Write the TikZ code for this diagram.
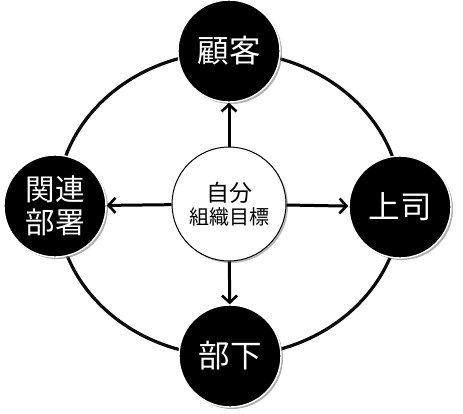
\documentclass[tikz,border=0pt]{standalone}
\usepackage{fontspec}
\newfontfamily\jpfont{Noto Sans CJK JP}
\usepackage{tikz}
\usetikzlibrary{arrows.meta,shadows}
\definecolor{RingBlack}{RGB}{10,10,10}
\definecolor{ShadowGray}{RGB}{120,120,120}
\tikzset{outer/.style={circle,fill=black,draw=white,line width=1.4pt,minimum size=102pt,inner sep=0pt,text=white,font=\jpfont\fontsize{31.5}{35}\selectfont,drop shadow={shadow xshift=2pt,shadow yshift=-2pt,fill=ShadowGray,opacity=.6}},
 centre/.style={circle,fill=white,draw=black,line width=1pt,minimum size=114pt,inner sep=0pt,align=center,font=\jpfont,drop shadow={shadow xshift=2pt,shadow yshift=-2pt,fill=ShadowGray,opacity=.5}},
 link/.style={-{Straight Barb[length=7pt,width=15pt,line width=2.6pt]},line width=3pt}}

\begin{document}
\begin{tikzpicture}[x=1pt,y=-1pt]
\useasboundingbox (0,0) rectangle (463,413);
\draw[RingBlack,line width=3.2pt] (229,204) ellipse [x radius=172,y radius=152];
\node[centre] (self) at (229,204){{\fontsize{23}{26}\selectfont 自分}\\[3pt]{\fontsize{20}{23}\selectfont 組織目標}};
\node[outer] (customer) at (229,51){顧客};
\node[outer] (boss) at (400,207){上司};
\node[outer] (staff) at (230,356){部下};
\node[outer,align=center,font=\jpfont\fontsize{29.5}{33}\selectfont] (dept) at (55,206){関連\\部署};
\draw[link] (self)--(customer);\draw[link] (self)--(boss);
\draw[link] (self)--(staff);\draw[link] (self)--(dept);
\end{tikzpicture}
\end{document}
